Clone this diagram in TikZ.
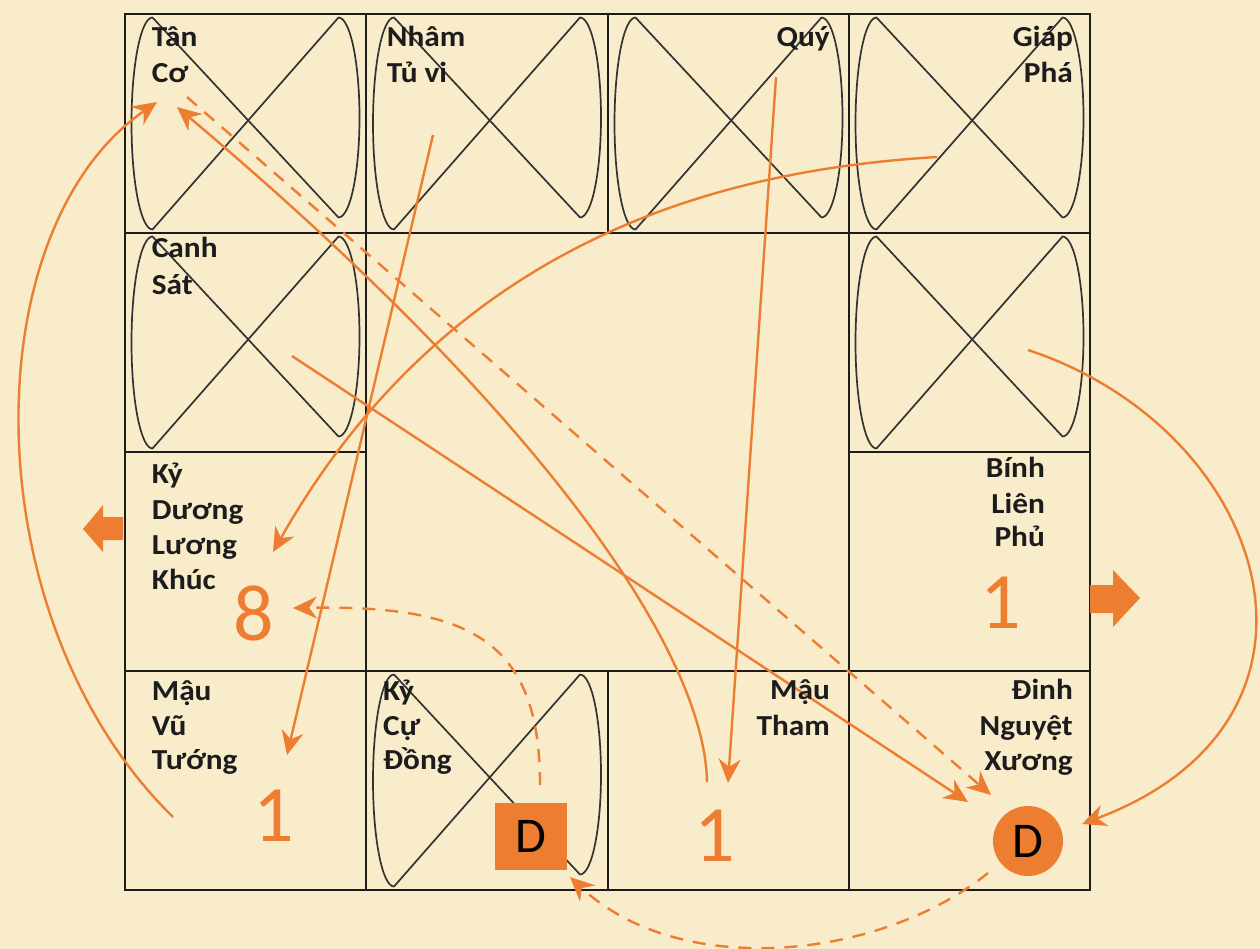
\documentclass[tikz,border=0pt]{standalone}
\usepackage{fontspec}
\setmainfont{Carlito}
\newfontfamily\lblfont[FakeStretch=1.08]{Carlito}
\usetikzlibrary{arrows.meta}
\definecolor{bg}{RGB}{248,236,202}
\definecolor{org}{RGB}{237,125,49}
\definecolor{ink}{RGB}{28,28,28}
\newcommand\eightfig[2]{%
  \draw[eightline] ({#1-93},{#2-106}) -- ({#1+93},{#2+94})
    arc[start angle=90,end angle=-90,x radius=21,y radius=100]
    -- ({#1-93},{#2+106})
    arc[start angle=90,end angle=270,x radius=21,y radius=106] -- cycle;}
\begin{document}
\begin{tikzpicture}[x=1pt,y=-1pt,
  grid/.style={draw=ink,line width=2.8pt},
  eightline/.style={draw=ink!90,line width=1.7pt,line join=round},
  arr/.style={draw=org,line width=2.4pt,-{Stealth[length=24pt,width=22pt]}},
  darr/.style={arr,dash pattern=on 13pt off 10pt},
  lbl/.style={inner sep=0pt,text=ink,font=\lblfont\fontsize{29}{36}\selectfont\bfseries},
  num/.style={inner sep=0pt,text=org,font=\fontsize{80}{80}\selectfont},
  dfont/.style={text=black,font=\fontsize{50}{50}\selectfont}]
\fill[bg] (0,0) rectangle (1260,949);
\useasboundingbox (0,0) rectangle (1260,949);

% figure-eight shapes (cell centres)
\eightfig{245.5}{123.5}
\eightfig{487}{123.5}
\eightfig{728.5}{123.5}
\eightfig{969.5}{123.5}
\eightfig{245.5}{342.5}
\eightfig{969.5}{342.5}
\eightfig{487}{780.5}

% grid
\draw[grid] (125,14) rectangle (1090,890);
\draw[grid] (125,233) -- (1090,233);
\draw[grid] (125,671) -- (1090,671);
\draw[grid] (125,452) -- (366,452);
\draw[grid] (849,452) -- (1090,452);
\draw[grid] (366,14) -- (366,890);
\draw[grid] (849,14) -- (849,890);
\draw[grid] (608,14) -- (608,233);
\draw[grid] (608,671) -- (608,890);

% block arrows
\fill[org] (123,517) -- (103,517) -- (103,505) -- (83,529) -- (103,552) -- (103,540) -- (123,540) -- cycle;
\fill[org] (1090,585) -- (1113,585) -- (1113,570) -- (1140,598) -- (1113,627) -- (1113,613) -- (1090,613) -- cycle;

% D markers
\node[dfont,fill=org,minimum width=72pt,minimum height=67pt,inner sep=0pt] (dsq) at (531,836) {D};
\node[dfont,fill=org,circle,minimum size=70pt,inner sep=0pt] (dci) at (1028,841) {D};

% arrow end points
\coordinate (a1s) at (173,817);  \coordinate (a1e) at (157,102);
\coordinate (a2s) at (292,356);  \coordinate (a2e) at (968,802);
\coordinate (a3s) at (707,782);  \coordinate (a3e) at (177,107);
\coordinate (a4s) at (187,97);   \coordinate (a4e) at (991,795);
\coordinate (a5s) at (540,785);  \coordinate (a5e) at (293,608);
\coordinate (a6s) at (988,873);  \coordinate (a6e) at (570,877);
\coordinate (a7s) at (1028,350); \coordinate (a7e) at (1082,824);
\coordinate (a8s) at (937,157);  \coordinate (a8e) at (273,552);
\coordinate (a9s) at (433,135);  \coordinate (a9e) at (287,755);
\coordinate (a10s) at (776,77);  \coordinate (a10e) at (728,783);

\draw[arr] (a1s) .. controls (-28,620) and (-28,230) .. (a1e);
\draw[arr] (a2s) -- (a2e);
\draw[arr] (a3s) .. controls (705,660) and (560,430) .. (a3e);
\draw[darr] (a4s) -- (a4e);
\draw[darr] (a5s) .. controls (540,640) and (470,605) .. (a5e);
\draw[darr] (a6s) .. controls (880,960) and (680,980) .. (a6e);
\draw[arr] (a7s) .. controls (1270,430) and (1360,720) .. (a7e);
\draw[arr] (a8s) .. controls (720,170) and (450,240) .. (a8e);
\draw[arr] (a9s) -- (a9e);
\draw[arr] (a10s) -- (a10e);

% labels
\node[lbl,anchor=base west] (l1a) at (151.7,46.7) {Tân};
\node[lbl,anchor=base west] (l1b) at (151.7,83) {Cơ};
\node[lbl,anchor=base west] (l2a) at (386.7,46.7) {Nhâm};
\node[lbl,anchor=base west] (l2b) at (386.7,83) {Tủ vi};
\node[lbl,anchor=base east] (l3a) at (830,46.7) {Quý};
\node[lbl,anchor=base east] (l4a) at (1073,46.7) {Giáp};
\node[lbl,anchor=base east] (l4b) at (1073,83) {Phá};
\node[lbl,anchor=base west] (l5a) at (151.7,258) {Canh};
\node[lbl,anchor=base west] (l5b) at (151.7,295) {Sát};
\node[lbl,anchor=base west] (l6a) at (151.7,483) {Kỷ};
\node[lbl,anchor=base west] (l6b) at (151.7,519) {Dương};
\node[lbl,anchor=base west] (l6c) at (151.7,554) {Lương};
\node[lbl,anchor=base west] (l6d) at (151.7,589) {Khúc};
\node[lbl,anchor=base east] (l7a) at (1045,477) {Bính};
\node[lbl,anchor=base east] (l7b) at (1045,513) {Liên};
\node[lbl,anchor=base east] (l7c) at (1045,546) {Phủ};
\node[lbl,anchor=base west] (l8a) at (151.7,700) {Mậu};
\node[lbl,anchor=base west] (l8b) at (151.7,735) {Vũ};
\node[lbl,anchor=base west] (l8c) at (151.7,769) {Tướng};
\node[lbl,anchor=base west] (l9a) at (383,700) {Kỷ};
\node[lbl,anchor=base west] (l9b) at (383,735) {Cự};
\node[lbl,anchor=base west] (l9c) at (383,769) {Đồng};
\node[lbl,anchor=base east] (l10a) at (830,699) {Mậu};
\node[lbl,anchor=base east] (l10b) at (830,735) {Tham};
\node[lbl,anchor=base east] (l11a) at (1073,699) {Đinh};
\node[lbl,anchor=base east] (l11b) at (1073,735) {Nguyệt};
\node[lbl,anchor=base east] (l11c) at (1073,770) {Xương};

% numbers
\node[num,anchor=base] (n8) at (254,640) {8};
\node[num,anchor=base] (n1a) at (274,841) {1};
\node[num,anchor=base] (n1b) at (715,861) {1};
\node[num,anchor=base] (n1c) at (1001,628) {1};
\end{tikzpicture}
\end{document}
